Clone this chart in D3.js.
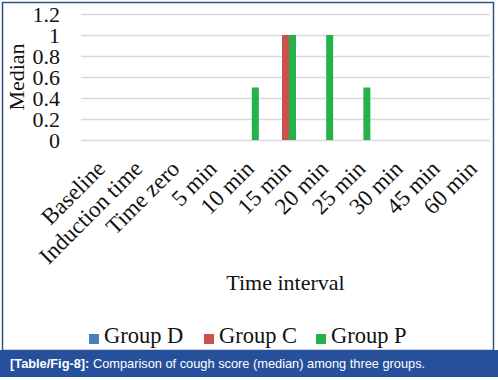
<!DOCTYPE html>
<html>
<head>
<meta charset="utf-8">
<script src="https://cdn.jsdelivr.net/npm/d3@7"></script>
<style>
  html, body { margin: 0; padding: 0; background: #fff; }
  svg { display: block; }
</style>
</head>
<body>
<div id="chart"></div>
<script>
// data
const categories = ["Baseline", "Induction time", "Time zero", "5 min", "10 min", "15 min",
                    "20 min", "25 min", "30 min", "45 min", "60 min"];
const groupD = [0, 0, 0, 0, 0, 0, 0, 0, 0, 0, 0];
const groupC = [0, 0, 0, 0, 0, 1, 0, 0, 0, 0, 0];
const groupP = [0, 0, 0, 0, 0.5, 1, 1, 0.5, 0, 0, 0];
const groupNames = ["Group D", "Group C", "Group P"];
const groupColors = ["#4a7fc1", "#c9514e", "#25b24b"];
const yTicks = [0, 0.2, 0.4, 0.6, 0.8, 1, 1.2];

const width = 498, height = 380;
const serif = "'Liberation Serif', 'Times New Roman', serif";

const svg = d3.select("#chart").append("svg")
  .attr("width", width)
  .attr("height", height);

// frame
svg.append("rect")
  .attr("x", 2.5).attr("y", 2.5)
  .attr("width", 491).attr("height", 348)
  .attr("fill", "#fff")
  .attr("stroke", "#34507e")
  .attr("stroke-width", 1.5);

// scales
const x = d3.scaleBand().domain(categories).range([81, 490]);
const groupW = 21;
const xg = d3.scaleBand().domain(groupNames).range([0, groupW]);
const y = d3.scaleLinear().domain([0, 1.2]).range([140, 14]);

// gridlines + y tick labels
const yAxis = svg.append("g")
  .attr("transform", "translate(81,0)")
  .call(d3.axisLeft(y).tickValues(yTicks).tickSize(-409).tickFormat(d3.format("~g")));
yAxis.select(".domain").remove();
yAxis.selectAll(".tick line").attr("stroke", "#d9d9d9").attr("stroke-width", 1.5);
yAxis.selectAll(".tick text")
  .attr("x", -21)
  .attr("dy", "0.36em")
  .attr("fill", "#111")
  .style("font-family", serif)
  .style("font-size", "22px");

// bars
const series = [groupD, groupC, groupP];
series.forEach((vals, gi) => {
  svg.append("g").selectAll("rect")
    .data(vals.map((v, i) => ({ cat: categories[i], v })))
    .join("rect")
    .filter(d => d.v > 0)
    .attr("x", d => x(d.cat) + (x.bandwidth() - groupW) / 2 + xg(groupNames[gi]))
    .attr("y", d => y(d.v))
    .attr("width", xg.bandwidth())
    .attr("height", d => y(0) - y(d.v))
    .attr("fill", groupColors[gi]);
});

// x labels, rotated
svg.append("g").selectAll("text")
  .data(categories)
  .join("text")
  .attr("transform", d => `translate(${x(d) + x.bandwidth() / 2 + 7},${170}) rotate(-45)`)
  .attr("text-anchor", "end")
  .attr("fill", "#111")
  .style("font-family", serif)
  .style("font-size", "23px")
  .text(d => d);

// axis titles
svg.append("text")
  .attr("transform", "translate(24,77) rotate(-90)")
  .attr("text-anchor", "middle")
  .attr("fill", "#111")
  .style("font-family", serif)
  .style("font-size", "22px")
  .text("Median");

svg.append("text")
  .attr("x", 285.5).attr("y", 290)
  .attr("text-anchor", "middle")
  .attr("fill", "#111")
  .style("font-family", serif)
  .style("font-size", "22px")
  .text("Time interval");

// legend
const legendX = [89, 204, 316];
const legend = svg.append("g").selectAll("g")
  .data(groupNames)
  .join("g")
  .attr("transform", (d, i) => `translate(${legendX[i]},0)`);
legend.append("rect")
  .attr("x", 0).attr("y", 334)
  .attr("width", 10).attr("height", 10)
  .attr("fill", (d, i) => groupColors[i]);
legend.append("text")
  .attr("x", 15).attr("y", 343)
  .attr("fill", "#111")
  .style("font-family", serif)
  .style("font-size", "22.5px")
  .text(d => d);

// caption bar
svg.append("rect")
  .attr("x", 0).attr("y", 350)
  .attr("width", width).attr("height", 27)
  .attr("fill", "#26509b");
const cap = svg.append("text")
  .attr("x", 10).attr("y", 368)
  .attr("fill", "#fff")
  .style("font-family", "'Liberation Sans', Arial, sans-serif")
  .style("font-size", "12.8px");
cap.append("tspan").attr("font-weight", "bold").text("[Table/Fig-8]:");
cap.append("tspan").text(" Comparison of cough score (median) among three groups.");
</script>
</body>
</html>
